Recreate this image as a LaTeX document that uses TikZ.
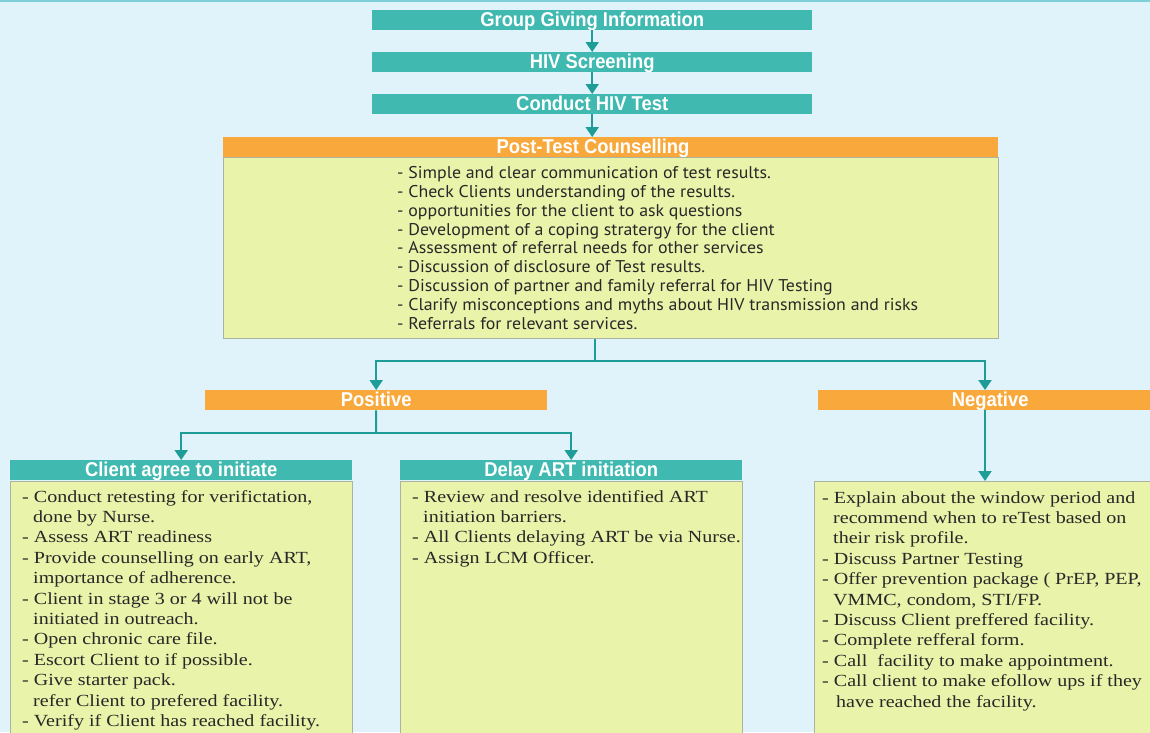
\documentclass[tikz,border=0pt]{standalone}
\usepackage{fontspec}
\setmainfont{Liberation Serif}
\newfontfamily\headfont[FakeStretch=0.92]{Liberation Sans}
\newfontfamily\listsans[FakeStretch=1.05]{PT Sans}
\newfontfamily\listserif[FakeStretch=1.18]{Liberation Serif}
\usetikzlibrary{arrows.meta,positioning}

\definecolor{bgblue}{RGB}{224,242,250}
\definecolor{edgeteal}{RGB}{126,208,216}
\definecolor{barteal}{RGB}{64,185,177}
\definecolor{barorange}{RGB}{249,169,60}
\definecolor{boxyellow}{RGB}{233,243,170}
\definecolor{boxedge}{RGB}{170,180,160}
\definecolor{lineteal}{RGB}{30,156,152}
\definecolor{listgray}{RGB}{40,40,40}

\tikzset{
  headtext/.style={text=white, inner sep=0pt, text height=15pt, text depth=2pt, font=\headfont\bfseries\fontsize{20}{20}\selectfont},
  tealbar/.style={headtext, fill=barteal, minimum height=20pt, anchor=north west},
  orangebar/.style={tealbar, fill=barorange},
  bodybox/.style={fill=boxyellow, draw=boxedge, line width=1.2pt, inner sep=0pt, anchor=north west},
  sanslist/.style={align=left, anchor=north west, inner sep=0pt, text=listgray, font=\listsans\fontsize{17}{18.9}\selectfont},
  seriflist/.style={sanslist, font=\listserif\fontsize{17}{20.4}\selectfont},
  joint/.style={draw=lineteal, line width=2pt},
  flow/.style={joint, -{Triangle[width=13pt,length=10pt]}}
}

\begin{document}
\begin{tikzpicture}[x=1pt,y=-1pt]
\path[use as bounding box] (0,0) rectangle (1150,732);
\clip (0,0) rectangle (1150,732);
\fill[bgblue] (0,0) rectangle (1150,732);
\fill[edgeteal] (0,0) rectangle (1150,2);

% top column
\node[tealbar, minimum width=440pt] (giving) at (372,10) {Group Giving Information};
\node[tealbar, minimum width=440pt] (screening) at (372,52) {HIV Screening};
\node[tealbar, minimum width=440pt] (testing) at (372,94) {Conduct HIV Test};

% post-test counselling
\node[orangebar, minimum width=775pt] (posthead) at (223,137) {};
\node[headtext] (posttitle) at (593,147) {Post-Test Counselling};
\node[bodybox, minimum width=775pt, minimum height=181pt] (postbody) at (223,157) {};
\node[sanslist] (postlist) at (397,166) {- Simple and clear communication of test results.\\
- Check Clients understanding of the results.\\
- opportunities for the client to ask questions\\
- Development of a coping stratergy for the client\\
- Assessment of referral needs for other services\\
- Discussion of disclosure of Test results.\\
- Discussion of partner and family referral for HIV Testing\\
- Clarify misconceptions and myths about HIV transmission and risks\\
- Referrals for relevant services.};

% results
\node[orangebar, minimum width=342pt] (positive) at (205,390) {Positive};
\node[orangebar, minimum width=344pt] (negative) at (818,390) {Negative};

% positive branch
\node[tealbar, minimum width=342pt] (agreehead) at (10,460) {Client agree to initiate};
\node[bodybox, minimum width=342pt, minimum height=300pt] (agreebody) at (10,481) {};
\node[seriflist] (agreelist) at (22,490) {- Conduct retesting for verifictation,\\
\hspace*{11pt}done by Nurse.\\
- Assess ART readiness\\
- Provide counselling on early ART,\\
\hspace*{11pt}importance of adherence.\\
- Client in stage 3 or 4 will not be\\
\hspace*{11pt}initiated in outreach.\\
- Open chronic care file.\\
- Escort Client to if possible.\\
- Give starter pack.\\
\hspace*{11pt}refer Client to prefered facility.\\
- Verify if Client has reached facility.};

\node[tealbar, minimum width=342pt] (delayhead) at (400,460) {Delay ART initiation};
\node[bodybox, minimum width=342pt, minimum height=300pt] (delaybody) at (400,481) {};
\node[seriflist] (delaylist) at (412,490) {- Review and resolve identified ART\\
\hspace*{11pt}initiation barriers.\\
- All Clients delaying ART be via Nurse.\\
- Assign LCM Officer.};

% negative branch
\node[bodybox, minimum width=350pt, minimum height=300pt] (negbody) at (814,481) {};
\node[seriflist] (neglist) at (822,491) {- Explain about the window period and\\
\hspace*{11pt}recommend when to reTest based on\\
\hspace*{11pt}their risk profile.\\
- Discuss Partner Testing\\
- Offer prevention package ( PrEP, PEP,\\
\hspace*{11pt}VMMC, condom, STI/FP.\\
- Discuss Client preffered facility.\\
- Complete refferal form.\\
- Call\ \ facility to make appointment.\\
- Call client to make efollow ups if they\\
\hspace*{14pt}have reached the facility.};

% connectors
\draw[flow] (giving) -- (screening);
\draw[flow] (screening) -- (testing);
\draw[flow] (testing.south) -- (testing.south |- posthead.north);
\coordinate (postsplit) at (595,361);
\coordinate (negx) at (985,0);
\draw[joint] (postbody.south -| postsplit) -- (postsplit);
\draw[flow] (postsplit) -| (positive.north);
\draw[flow] (postsplit) -| (negative.north -| negx);
\coordinate (possplit) at (376,433);
\draw[joint] (positive.south) -- (possplit);
\draw[flow] (possplit) -| (agreehead.north);
\draw[flow] (possplit) -| (delayhead.north);
\draw[flow] (negative.south -| negx) -- (negbody.north -| negx);
\end{tikzpicture}
\end{document}
